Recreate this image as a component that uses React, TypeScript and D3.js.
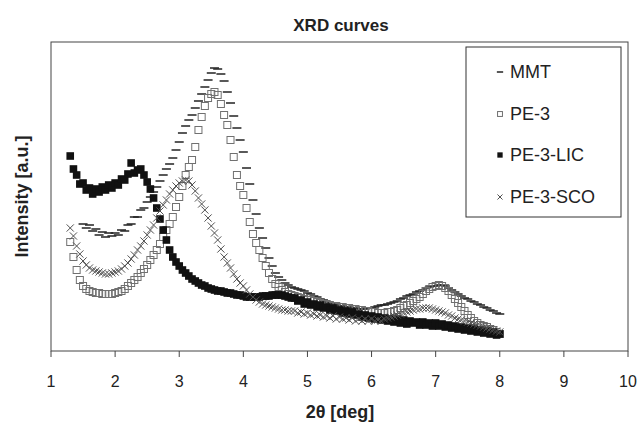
import React from "react";
import * as d3 from "d3";

// 2θ sampling (deg): all curves recorded every 0.05 deg
const angleStep = 0.05;
const startPE3 = 1.3;
const startMMT = 1.5;
const xTicks = [1, 2, 3, 4, 5, 6, 7, 8, 9, 10];
const seriesNames = ["MMT", "PE-3", "PE-3-LIC", "PE-3-SCO"];

// Intensities [a.u.]
const mmt = [
  127, 123, 126, 120, 122, 116, 119, 114, 118, 115,
  118, 116, 121, 120, 126, 127, 134, 134, 141, 143,
  149, 154, 159, 164, 170, 176, 182, 187, 193, 201,
  209, 218, 225, 231, 236, 243, 250, 257, 264, 271,
  278, 283, 282, 277, 270, 259, 248, 235, 223, 211,
  199, 183, 167, 151, 137, 123, 113, 103, 93, 85,
  78, 74, 71, 68, 66, 64, 63, 62, 61, 60,
  58, 57, 55, 54, 52, 51, 49, 48, 47, 46,
  45, 45, 44, 44, 43, 43, 42, 42, 42, 43,
  43, 44, 45, 46, 46, 47, 48, 49, 50, 52,
  53, 55, 56, 57, 59, 60, 61, 63, 64, 65,
  65, 66, 66, 65, 63, 61, 59, 57, 55, 53,
  52, 50, 49, 47, 46, 44, 43, 41, 40, 38,
  37,
];

const pe3 = [
  109, 94, 81, 71, 65, 62, 60, 59, 58, 58,
  57, 57, 57, 57, 58, 59, 60, 62, 65, 68,
  71, 74, 78, 82, 86, 91, 96, 101, 107, 114,
  121, 127, 134, 144, 154, 165, 176, 184, 191, 204,
  221, 234, 245, 253, 257, 259, 256, 247, 236, 226,
  211, 194, 176, 165, 156, 143, 129, 117, 108, 101,
  93, 85, 78, 72, 67, 64, 61, 59, 57, 56,
  55, 54, 53, 52, 51, 51, 50, 49, 48, 47,
  47, 46, 45, 45, 44, 44, 43, 43, 42, 42,
  41, 41, 40, 40, 39, 39, 38, 38, 38, 39,
  39, 40, 41, 43, 45, 46, 48, 50, 52, 54,
  57, 60, 62, 64, 65, 66, 65, 63, 60, 56,
  52, 48, 44, 40, 36, 33, 30, 28, 26, 25,
  24, 22, 21, 19, 17,
];

const pe3Lic = [
  195, 182, 176, 167, 168, 161, 163, 157, 162, 159,
  164, 161, 166, 163, 168, 166, 172, 171, 177, 188,
  178, 181, 182, 176, 169, 162, 153, 143, 132, 121,
  111, 101, 94, 89, 85, 81, 78, 75, 72, 70,
  68, 66, 65, 63, 62, 61, 60, 60, 59, 58,
  58, 57, 56, 56, 55, 54, 54, 54, 54, 54,
  55, 55, 55, 56, 56, 56, 56, 55, 54, 53,
  53, 50, 51, 47, 49, 46, 47, 44, 46, 43,
  44, 41, 43, 40, 41, 38, 40, 37, 39, 36,
  37, 34, 36, 33, 35, 32, 34, 31, 33, 30,
  32, 29, 32, 28, 31, 27, 30, 28, 29, 26,
  29, 26, 28, 25, 28, 25, 27, 24, 26, 23,
  25, 22, 24, 21, 23, 20, 22, 19, 21, 18,
  20, 17, 19, 16, 17,
];

const pe3Sco = [
  123, 115, 105, 97, 90, 86, 83, 81, 80, 79,
  78, 77, 77, 78, 79, 80, 82, 85, 88, 92,
  96, 101, 105, 110, 116, 121, 126, 133, 140, 146,
  151, 157, 161, 165, 168, 170, 171, 170, 166, 160,
  153, 147, 141, 133, 125, 118, 111, 102, 94, 88,
  83, 77, 72, 68, 65, 61, 57, 54, 51, 49,
  47, 46, 45, 44, 43, 42, 41, 41, 40, 40,
  40, 38, 39, 37, 38, 36, 37, 35, 36, 34,
  35, 33, 35, 32, 34, 32, 33, 31, 33, 30,
  32, 30, 32, 30, 32, 30, 31, 30, 32, 33,
  34, 35, 36, 37, 38, 39, 40, 41, 42, 42,
  43, 43, 43, 42, 41, 40, 39, 38, 36, 35,
  33, 32, 31, 30, 29, 28, 27, 26, 25, 24,
  23, 22, 21, 20, 19,
];

type Pt = { x: number; y: number };
const toPts = (vals: number[], start: number): Pt[] =>
  vals.map((v, i) => ({ x: start + i * angleStep, y: v }));

const W = 638;
const H = 423;
const M = { left: 51, right: 10, top: 42, bottom: 72 };

const FONT = "'Liberation Sans', Arial, Helvetica, sans-serif";

function Marker({ kind, x, y, s = 1 }: { kind: number; x: number; y: number; s?: number }) {
  if (kind === 0) {
    const h = 4.5 * s;
    return <line x1={x - h} x2={x + h} y1={y} y2={y} stroke="#222" strokeWidth={1.5} />;
  }
  if (kind === 1) {
    const h = 3.5 * s;
    return <rect x={x - h} y={y - h} width={2 * h} height={2 * h} fill="none" stroke="#707070" strokeWidth={1} />;
  }
  if (kind === 2) {
    const h = 3.8 * s;
    return <rect x={x - h} y={y - h} width={2 * h} height={2 * h} fill="#111" />;
  }
  const h = 3.6 * s;
  return (
    <path
      d={`M${x - h},${y - h}L${x + h},${y + h}M${x - h},${y + h}L${x + h},${y - h}`}
      stroke="#505050"
      strokeWidth={1}
      fill="none"
    />
  );
}

export default function App() {
  const x = d3.scaleLinear().domain([1, 10]).range([M.left, W - M.right]);
  const y = d3.scaleLinear().domain([0, 309]).range([H - M.bottom, M.top]);
  const y0 = y(0);

  const data: Pt[][] = [
    toPts(mmt, startMMT),
    toPts(pe3, startPE3),
    toPts(pe3Lic, startPE3),
    toPts(pe3Sco, startPE3),
  ];

  const legendX = 466;
  const legendY = 47;
  const legendW = 155;
  const legendH = 170;
  const rowY = [72, 114, 155, 197];

  return (
    <svg
      width={W}
      height={H}
      style={{ position: "absolute", left: 0, top: 0, background: "#fff" }}
      fontFamily={FONT}
    >
      <rect x={0} y={0} width={W} height={H} fill="#fff" />
      <text x={341} y={31} textAnchor="middle" fontSize={17} fontWeight="bold" fill="#222">
        XRD curves
      </text>

      {/* plot frame */}
      <rect
        x={M.left}
        y={M.top}
        width={W - M.right - M.left}
        height={y0 - M.top}
        fill="none"
        stroke="#444"
        strokeWidth={1}
      />

      {/* x axis ticks */}
      {xTicks.map((t) => (
        <g key={t}>
          <line x1={x(t)} x2={x(t)} y1={y0} y2={y0 + 6} stroke="#444" strokeWidth={1} />
          <text x={x(t)} y={y0 + 36} textAnchor="middle" fontSize={16} fill="#222">
            {t}
          </text>
        </g>
      ))}

      <text x={340} y={418} textAnchor="middle" fontSize={18} fontWeight="bold" fill="#222">
        2θ [deg]
      </text>
      <text
        transform={`translate(28,${(M.top + y0) / 2}) rotate(-90)`}
        textAnchor="middle"
        fontSize={18}
        fontWeight="bold"
        fill="#222"
      >
        Intensity [a.u.]
      </text>

      {/* data markers */}
      {data.map((pts, k) => (
        <g key={k}>
          {pts.map((p, i) => (
            <Marker key={i} kind={k} x={x(p.x)} y={y(p.y)} />
          ))}
        </g>
      ))}

      {/* legend */}
      <rect x={legendX} y={legendY} width={legendW} height={legendH} fill="#fff" stroke="#333" strokeWidth={1} />
      {seriesNames.map((n, k) => (
        <g key={n}>
          <Marker kind={k} x={500} y={rowY[k]} s={0.7} />
          <text x={510} y={rowY[k] + 6} fontSize={18} fill="#222">
            {n}
          </text>
        </g>
      ))}
    </svg>
  );
}
